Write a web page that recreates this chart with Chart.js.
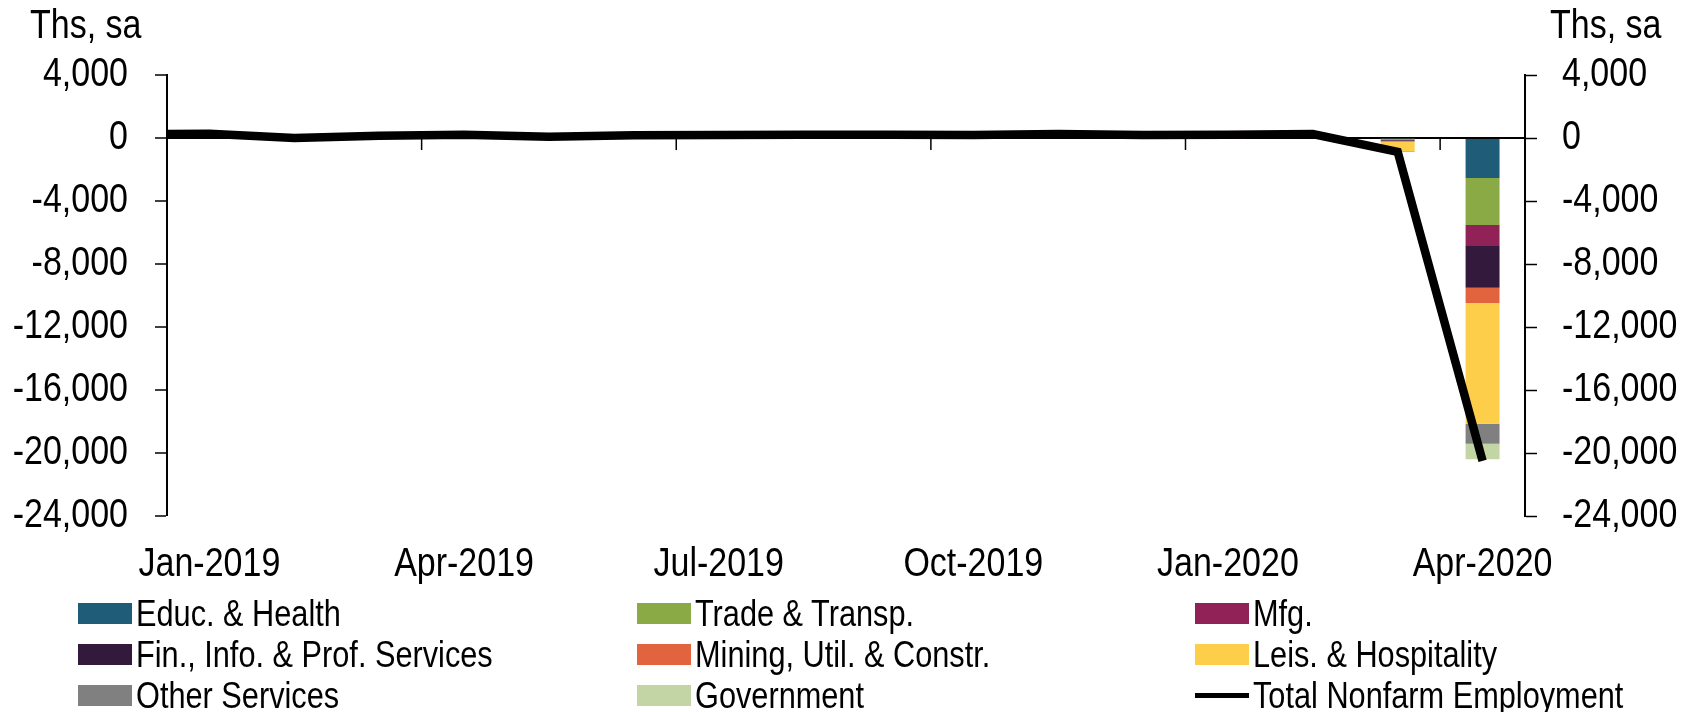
<!DOCTYPE html>
<html><head><meta charset="utf-8">
<script src="https://cdn.jsdelivr.net/npm/chart.js@4.4.1/dist/chart.umd.min.js"></script>
<style>
html,body{margin:0;padding:0;background:#fff;}
#wrap{position:relative;width:1692px;height:712px;overflow:hidden;font-family:'Liberation Sans Narrow','Arial Narrow','Liberation Sans',Arial,sans-serif;color:#000;}
canvas{position:absolute;left:0;top:0;}
.unit{position:absolute;top:0;font-size:40px;line-height:48px;transform:scaleX(0.85);transform-origin:left center;white-space:nowrap;}
#legend{position:absolute;left:78px;top:593px;display:grid;grid-template-columns:559px 558px 420px;grid-auto-rows:41px;}
.li{display:flex;align-items:center;font-size:37px;line-height:41px;white-space:nowrap;}
.li .t{display:inline-block;transform:scaleX(0.83);transform-origin:left center;}
.sw{width:54px;height:21px;margin-right:4px;flex:none;}
.ln{width:54px;height:5px;background:#000;margin-right:4px;flex:none;}
</style></head>
<body><div id="wrap"><canvas id="c" width="1692" height="712"></canvas>
<div class="unit" style="left:30px">Ths, sa</div>
<div class="unit" style="left:1550px">Ths, sa</div>
<div id="legend"></div></div>
<script>
const FONT = "'Liberation Sans Narrow','Arial Narrow','Liberation Sans',Arial,sans-serif";
const SQUEEZE = 0.85; // narrow-font look for canvas text
// Months (Dec-2018 lies just off the left edge; only its line segment shows)
const months = ['Dec-2018','Jan-2019','Feb-2019','Mar-2019','Apr-2019','May-2019','Jun-2019','Jul-2019','Aug-2019','Sep-2019','Oct-2019','Nov-2019','Dec-2019','Jan-2020','Feb-2020','Mar-2020','Apr-2020'];
const xLabelMonths = ['Jan-2019','Apr-2019','Jul-2019','Oct-2019','Jan-2020','Apr-2020'];
const yTickValues = [4000, 0, -4000, -8000, -12000, -16000, -20000, -24000];
// Monthly change, thousands, seasonally adjusted
const educHealth   = [50, 60, 40, 55, 75, 45, 60, 65, 60, 55, 50, 65, 60, 55, 55, -50, -2544];
const tradeTransp  = [30, 25, -15, 10, 15, -10, 10, 15, 20, 15, 10, 20, 25, 10, 15, -70, -2982];
const mfg          = [30, 15, 0, -5, 5, 0, 10, 5, 5, -5, -40, 55, -10, -10, 10, -20, -1330];
const finInfoProf  = [50, 60, 40, 45, 60, 35, 50, 45, 50, 55, 55, 55, 30, 40, 45, -60, -2644];
const miningUtilCon= [35, 50, -30, 10, 20, 5, 20, 10, 15, 25, 15, 10, 10, 50, 40, -30, -984];
const leisHosp     = [20, 40, -20, 20, 20, 5, 10, 30, 30, 30, 60, 35, 40, 35, 45, -600, -7653];
const otherServ    = [5, 5, 0, 5, 5, 0, 5, 5, 5, 10, 10, 5, 10, 10, 10, -30, -1282];
const government   = [7, 14, -14, 7, 10, 5, 17, 19, 22, 23, 25, 16, 19, 24, 31, -10, -980];
const totalNonfarm = [227, 269, 1, 147, 210, 85, 182, 194, 207, 208, 185, 261, 184, 214, 251, -881, -20500];

const barSeries = [
  ['Educ. & Health', educHealth, '#1F5C78'],
  ['Trade & Transp.', tradeTransp, '#89AA45'],
  ['Mfg.', mfg, '#912257'],
  ['Fin., Info. & Prof. Services', finInfoProf, '#331A3D'],
  ['Mining, Util. & Constr.', miningUtilCon, '#E2643F'],
  ['Leis. & Hospitality', leisHosp, '#FDCE4A'],
  ['Other Services', otherServ, '#808080'],
  ['Government', government, '#C3D5A5']
];

const datasets = barSeries.map(([label, data, color]) => ({
  type: 'bar', label, data, backgroundColor: color, borderWidth: 0,
  stack: 'sectors', order: 1, categoryPercentage: 1, barPercentage: 0.4, yAxisID: 'y'
}));
datasets.push({
  type: 'line', label: 'Total Nonfarm Employment', data: totalNonfarm,
  borderColor: '#000', backgroundColor: '#000', borderWidth: 8.5, pointRadius: 0,
  tension: 0, stack: 'total', order: 0, yAxisID: 'y', borderJoinStyle: 'miter'
});

const zeroTicks = {
  id: 'zeroTicks',
  afterDatasetsDraw(chart) {
    const xs = chart.scales.x, ys = chart.scales.y;
    const y0 = ys.getPixelForValue(0);
    const ctx = chart.ctx;
    ctx.save();
    ctx.strokeStyle = '#000'; ctx.lineWidth = 1.5;
    for (let i = xs.min + 1; i <= xs.max; i++) {
      if (xLabelMonths.includes(xs.getLabelForValue(i))) {
        const px = (xs.getPixelForValue(i - 1) + xs.getPixelForValue(i)) / 2;
        ctx.beginPath(); ctx.moveTo(px, y0); ctx.lineTo(px, y0 + 12); ctx.stroke();
      }
    }
    ctx.restore();
  }
};

const yCommon = (pos, pad, w) => ({
  type: 'linear', position: pos, min: -24000, max: 4000, stacked: true,
  afterBuildTicks: s => { s.ticks = yTickValues.map(v => ({ value: v })); },
  afterFit: s => { s.width = w; },
  border: { display: true, color: '#000', width: 2 },
  ticks: { color: '#000', padding: pad, font: { family: FONT, size: 40 },
    callback: v => Number(v).toLocaleString('en-US') },
});

const yLeft = yCommon('left', 27, 157);
yLeft.grid = { drawOnChartArea: true, tickLength: 12, tickWidth: 1.5, tickColor: '#000',
  color: c => (c.tick && c.tick.value === 0) ? '#000' : 'rgba(0,0,0,0)',
  lineWidth: c => (c.tick && c.tick.value === 0) ? 2 : 0 };
const yRight = yCommon('right', 25, 155);
yRight.grid = { drawOnChartArea: false, tickLength: 12, tickWidth: 1.5, tickColor: '#000' };

const canvas = document.getElementById('c');
const ctx2d = canvas.getContext('2d');
const origFill = ctx2d.fillText;
ctx2d.fillText = function (t, x, y, mw) {
  const w = this.measureText(t).width * SQUEEZE;
  return origFill.call(this, t, x, y, mw !== undefined ? Math.min(mw, w) : w);
};

const chart = new Chart(canvas, {
  data: { labels: months, datasets },
  options: {
    responsive: false, animation: false,
    layout: { padding: { top: 75, left: 10, right: 12, bottom: 125 } },
    plugins: { legend: { display: false }, tooltip: { enabled: false } },
    scales: {
      x: { type: 'category', min: 'Jan-2019', offset: true, stacked: true,
        grid: { display: false, drawTicks: false }, border: { display: false },
        afterFit: s => { s.height = 71; },
        ticks: { autoSkip: false, maxRotation: 0, minRotation: 0, padding: 25, color: '#000',
          font: { family: FONT, size: 40 },
          callback: function (v) { const l = this.getLabelForValue(v); return xLabelMonths.includes(l) ? l : ''; } } },
      y: yLeft,
      y2: yRight
    }
  },
  plugins: [zeroTicks]
});

// HTML legend in three columns, row-major like the original
const leg = document.getElementById('legend');
chart.data.datasets.forEach(ds => {
  const item = document.createElement('div'); item.className = 'li';
  const sw = document.createElement('span');
  if (ds.type === 'line') { sw.className = 'ln'; }
  else { sw.className = 'sw'; sw.style.background = ds.backgroundColor; }
  item.appendChild(sw);
  const t = document.createElement('span'); t.className = 't'; t.textContent = ds.label;
  item.appendChild(t);
  leg.appendChild(item);
});
</script>
</body></html>
